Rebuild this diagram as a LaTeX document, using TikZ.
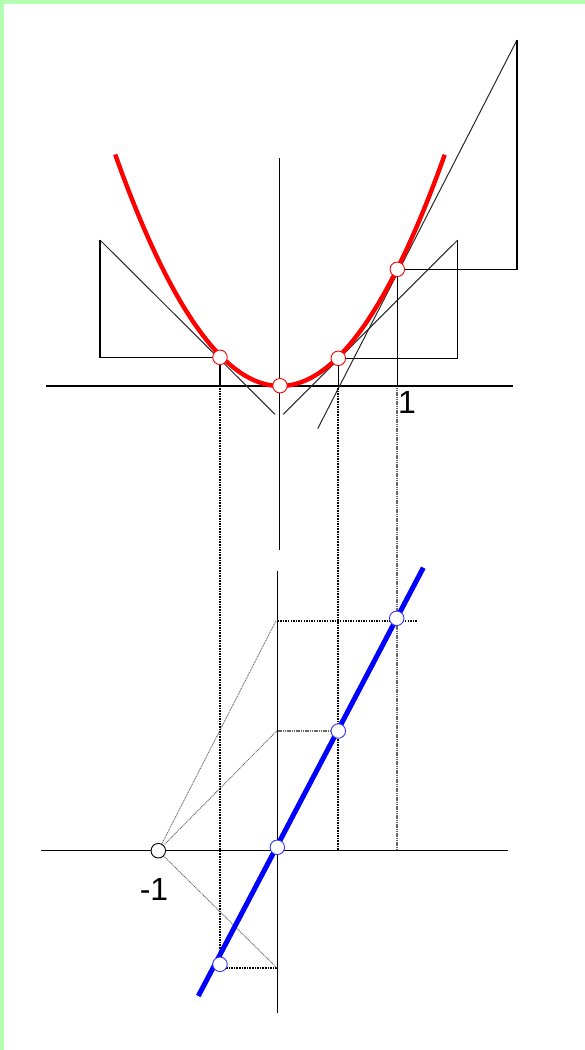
\documentclass[tikz,border=0pt]{standalone}
\usepackage{fontspec}
\setmainfont{Liberation Sans}
\definecolor{bordergreen}{RGB}{180,255,180}
\definecolor{tangray}{RGB}{40,40,40}
\begin{document}
\begin{tikzpicture}[x=1pt,y=-1pt,
  axisline/.style={black,line width=1.1pt},
  tanline/.style={tangray,line width=1pt},
  dotline/.style={black,line width=1.6pt,dash pattern=on 1.5pt off 1.1pt},
  greydot/.style={black!60,line width=1.7pt,dash pattern=on 1.2pt off 0.6pt},
  construct/.style={black!60,line width=0.9pt,dash pattern=on 1pt off 0.8pt},
  redcurve/.style={red,line width=4.4pt},
  bluecurve/.style={blue,line width=5pt},
  ptdot/.style={circle,fill=white,minimum size=14.5pt,inner sep=0pt,line width=0.9pt,draw=#1},
  lbl/.style={font=\fontsize{32}{32}\selectfont,inner sep=0pt}]
\useasboundingbox (0,0) rectangle (585,1050);
\fill[bordergreen] (0,0) rectangle (585,1050);
\fill[white] (4,4) rectangle (585,1050);

% point positions
\coordinate (cO)  at (280,385.7);
\coordinate (cL)  at (220,357.3);
\coordinate (cR)  at (338.3,358.3);
\coordinate (cU)  at (397.3,269.3);
\coordinate (dOc) at (277.3,847.3);
\coordinate (dRc) at (338.3,731);
\coordinate (dUc) at (396.7,618.3);
\coordinate (dLc) at (220,964.3);
\coordinate (mOc) at (158.3,850.7);

% upper axes
\coordinate (ax1a) at (46,386);   \coordinate (ax1b) at (513,386);
\coordinate (ay1a) at (279.5,158);\coordinate (ay1b) at (279.5,550);
\draw[axisline] (ax1a) -- (ax1b);
\draw[axisline] (ay1a) -- (ay1b);
% lower axes
\coordinate (ax2a) at (41,850.5);  \coordinate (ax2b) at (508,850.5);
\coordinate (ay2a) at (277.5,571); \coordinate (ay2b) at (277.5,1012.5);
\draw[axisline] (ax2a) -- (ax2b);
\draw[axisline] (ay2a) -- (ay2b);

% tangent triangles
\coordinate (tLa) at (275,414.3); \coordinate (tLb) at (100,240); \coordinate (tLc) at (100,357.3);
\draw[tanline] (tLa) -- (tLb);
\draw[axisline] (tLb) -- (tLc) -- (cL);
\coordinate (tRa) at (283.3,414.3); \coordinate (tRb) at (457.7,240); \coordinate (tRc) at (457.7,358.3);
\draw[tanline] (tRa) -- (tRb);
\draw[axisline] (tRb) -- (tRc) -- (cR);
\coordinate (tUa) at (317.7,428.7); \coordinate (tUb) at (517,40); \coordinate (tUc) at (517,269.3);
\draw[tanline] (tUa) -- (tUb);
\draw[axisline] (tUb) -- (tUc) -- (cU);

% projections to the x-axis
\coordinate (fL) at (220,386); \coordinate (fR) at (338.3,386); \coordinate (fU) at (397.3,386);
\draw[axisline] (cL) -- (fL);
\draw[axisline] (cR) -- (fR);
\draw[axisline] (cU) -- (fU);

% dotted verticals
\coordinate (vLa) at (220,388);   \coordinate (vLb) at (220,957);
\coordinate (vRa) at (338,388);   \coordinate (vRb) at (338,850);
\coordinate (vUa) at (396.8,388); \coordinate (vUb) at (396.8,850);
\draw[dotline] (vLa) -- (vLb);
\draw[dotline] (vRa) -- (vRb);
\draw[greydot] (vUa) -- (vUb);

% dotted horizontals
\coordinate (hUa) at (277.5,620.7); \coordinate (hUb) at (417.7,620.7);
\coordinate (hRa) at (277.5,731);
\coordinate (hLa) at (277.5,967.7); \coordinate (hLb) at (226,967.7);
\draw[dotline] (hUa) -- (hUb);
\draw[greydot] (hRa) -- (dRc);
\draw[dotline] (hLb) -- (hLa);

% construction lines from -1
\coordinate (gU) at (276,620.7); \coordinate (gR) at (277,730.7); \coordinate (gL) at (277.3,968.3);
\draw[construct] (mOc) -- (gU);
\draw[construct] (mOc) -- (gR);
\draw[construct] (mOc) -- (gL);

% curves
\draw[redcurve] plot[domain=-1.405:1.405,samples=120,smooth] ({280+117.3*\x},{386-117.3*\x*\x});
\coordinate (bA) at (198.3,996); \coordinate (bB) at (423.3,567.7);
\draw[bluecurve] (bA) -- (bB);

% points
\node[ptdot=red]  (pO) at (cO) {};
\node[ptdot=red]  (pL) at (cL) {};
\node[ptdot=red]  (pR) at (cR) {};
\node[ptdot=red]  (pU) at (cU) {};
\node[ptdot=blue!80] (qO) at (dOc) {};
\node[ptdot=blue!80] (qR) at (dRc) {};
\node[ptdot=blue!80] (qU) at (dUc) {};
\node[ptdot=blue!80] (qL) at (dLc) {};
\node[ptdot=black] (mO) at (mOc) {};

% labels
\node[lbl] (one) at (407,402) {1};
\node[lbl] (mone) at (154,889) {-1};
\end{tikzpicture}
\end{document}
